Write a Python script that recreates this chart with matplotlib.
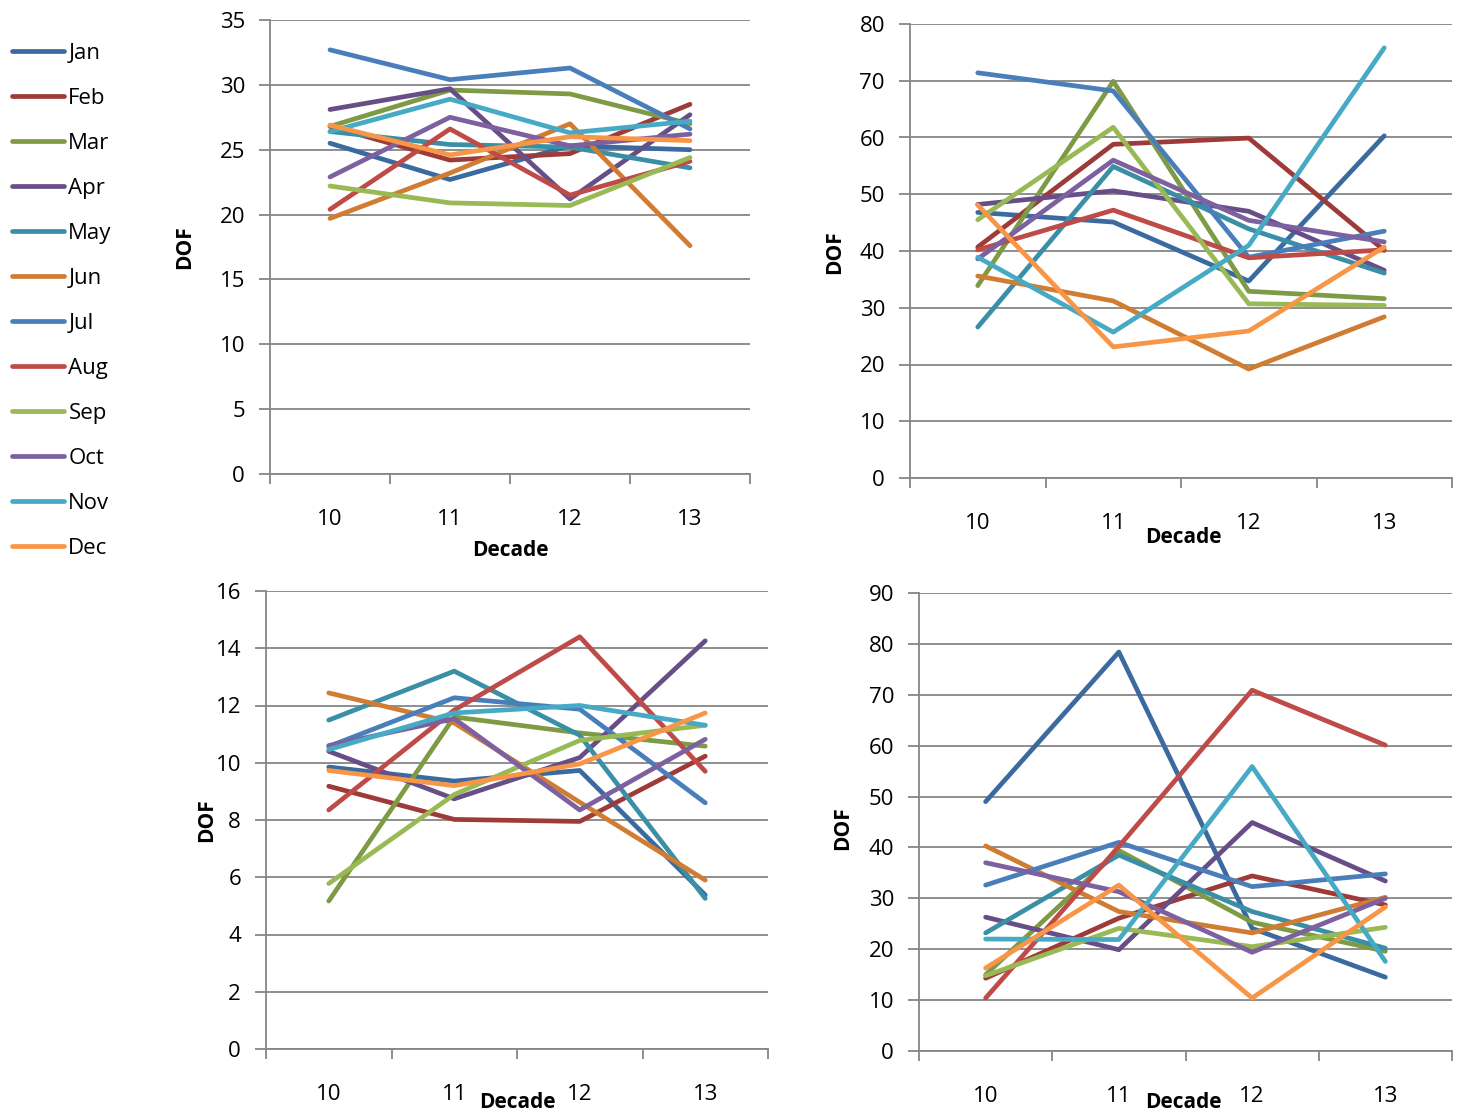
import matplotlib
matplotlib.use("Agg")
import matplotlib.pyplot as plt
import numpy as np

plt.rcParams['font.family'] = ['Open Sans', 'DejaVu Sans']

months = ["Jan", "Feb", "Mar", "Apr", "May", "Jun",
          "Jul", "Aug", "Sep", "Oct", "Nov", "Dec"]
decades = ["10", "11", "12", "13"]
colors = ["#3b6aa0", "#9e3b38", "#7e9a45", "#674e87", "#3a8fa6", "#d07c33",
          "#4a7ebb", "#be4b48", "#98b954", "#7d60a0", "#46aac5", "#f79646"]

# top left panel, one row per month, columns = decade 10..13
dof_a = [
    [25.5, 22.7, 25.3, 25.0],
    [26.8, 24.2, 24.7, 28.5],
    [26.8, 29.6, 29.3, 27.0],
    [28.1, 29.7, 21.2, 27.7],
    [26.4, 25.4, 25.2, 23.6],
    [19.7, 23.2, 27.0, 17.6],
    [32.7, 30.4, 31.3, 26.6],
    [20.4, 26.6, 21.5, 24.1],
    [22.2, 20.9, 20.7, 24.4],
    [22.9, 27.5, 25.3, 26.2],
    [26.4, 28.9, 26.3, 27.2],
    [26.9, 24.6, 26.0, 25.7],
]

# top right panel
dof_b = [
    [46.8, 45.1, 34.7, 60.3],
    [40.7, 58.8, 59.9, 40.1],
    [33.9, 69.9, 32.9, 31.6],
    [48.2, 50.6, 47.0, 36.6],
    [26.6, 54.9, 43.9, 36.1],
    [35.6, 31.2, 19.2, 28.4],
    [71.4, 68.2, 38.9, 43.5],
    [40.2, 47.2, 38.8, 40.2],
    [45.5, 61.8, 30.7, 30.4],
    [38.6, 56.0, 45.4, 41.6],
    [38.9, 25.7, 41.0, 75.8],
    [48.1, 23.1, 25.9, 40.7],
]

# bottom left panel
dof_c = [
    [9.85, 9.36, 9.73, 5.38],
    [9.18, 8.02, 7.95, 10.23],
    [5.17, 11.6, 11.04, 10.58],
    [10.4, 8.74, 10.18, 14.26],
    [11.49, 13.2, 10.96, 5.26],
    [12.44, 11.39, 8.62, 5.9],
    [10.57, 12.27, 11.87, 8.6],
    [8.35, 11.84, 14.4, 9.7],
    [5.78, 8.89, 10.78, 11.31],
    [10.6, 11.54, 8.35, 10.82],
    [10.46, 11.74, 12.0, 11.31],
    [9.73, 9.2, 9.96, 11.74],
]

# bottom right panel
dof_d = [
    [49.0, 78.4, 24.1, 14.5],
    [14.3, 26.1, 34.4, 28.7],
    [15.0, 39.4, 25.3, 19.6],
    [26.3, 19.9, 44.9, 33.4],
    [23.2, 38.5, 27.4, 20.2],
    [40.3, 27.4, 23.2, 30.2],
    [32.6, 41.0, 32.3, 34.8],
    [10.4, 40.2, 70.9, 60.1],
    [14.8, 24.1, 20.5, 24.3],
    [37.0, 31.3, 19.4, 30.0],
    [22.0, 21.9, 55.9, 17.6],
    [16.3, 32.6, 10.4, 28.3],
]

W, H = 1465, 1117
fig = plt.figure(figsize=(W / 100, H / 100), dpi=100)

def px_axes(x0, y_top, x1, y_bot):
    return fig.add_axes([x0 / W, 1 - y_bot / H, (x1 - x0) / W, (y_bot - y_top) / H])

grid_col = "#868686"
fs = 16
lw = 3.4

# (axes box in px, data, ymax, ystep, DOF label pos, Decade label pos)
panels = [
    ((270, 20, 750, 474), dof_a, 35, 5, (185, 247), (510, 551)),
    ((910, 24, 1452, 478), dof_b, 80, 10, (835, 252), (1183, 537)),
    ((266, 591, 768, 1049), dof_c, 16, 2, (207, 820), (517, 1102)),
    ((919, 593, 1452, 1051), dof_d, 90, 10, (843, 828), (1183, 1102)),
]

x = np.arange(len(decades))
for box, data, ymax, ystep, dof_pos, dec_pos in panels:
    ax = px_axes(*box)
    for i, m in enumerate(months):
        ax.plot(x, data[i], color=colors[i], lw=lw, solid_capstyle="round",
                solid_joinstyle="round", label=m, zorder=3)
    ax.set_xlim(-0.5, len(decades) - 0.5)
    ax.set_ylim(0, ymax)
    ax.set_yticks(np.arange(0, ymax + 1, ystep))
    ax.yaxis.grid(True, color=grid_col, lw=1.3)
    ax.set_axisbelow(True)
    for s in ["top", "right"]:
        ax.spines[s].set_visible(False)
    for s in ["left", "bottom"]:
        ax.spines[s].set_color(grid_col)
        ax.spines[s].set_linewidth(1.3)
    ax.set_xticks(x)
    ax.set_xticklabels(decades)
    ax.set_xticks(np.arange(-0.5, len(decades)), minor=True)
    ax.tick_params(axis="x", which="major", length=0, pad=25, labelsize=fs)
    ax.tick_params(axis="x", which="minor", length=7, width=1.3, color=grid_col)
    ax.tick_params(axis="y", length=8, width=1.3, color=grid_col, pad=10, labelsize=fs)
    fig.text(dof_pos[0] / W, 1 - dof_pos[1] / H, "DOF", rotation=90, fontsize=15,
             fontweight="bold", ha="center", va="center")
    fig.text(dec_pos[0] / W, 1 - dec_pos[1] / H, "Decade", fontsize=15,
             fontweight="bold", ha="center", va="center")

handles = [plt.Line2D([], [], color=c, lw=lw, solid_capstyle="round") for c in colors]
fig.legend(handles, months, loc="upper left", bbox_to_anchor=(5 / W, 1 - 36 / H),
           frameon=False, fontsize=fs, handlelength=2.35, handletextpad=0.2,
           labelspacing=1.08, borderaxespad=0.0, borderpad=0.3)

fig.savefig("out.png", dpi=100)
